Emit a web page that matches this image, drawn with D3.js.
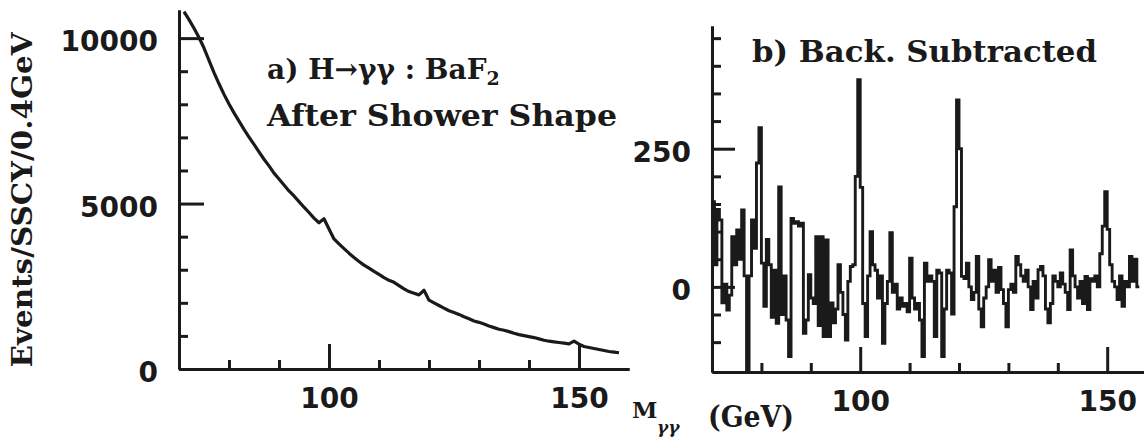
<!DOCTYPE html>
<html><head><meta charset="utf-8">
<script src="https://cdn.jsdelivr.net/npm/d3@7"></script>
<style>
html,body{margin:0;padding:0;background:#fff;}
svg{display:block;}
.tick text{font-family:"DejaVu Sans",sans-serif;font-weight:bold;font-size:28px;fill:#1a1a1a;}
.ann{font-family:"DejaVu Serif",serif;font-weight:bold;fill:#1a1a1a;}
.axis .domain,.axis .tick line{stroke:#1a1a1a;stroke-width:3;}
</style></head><body>
<svg id="c" width="1144" height="445"></svg>
<script>
// ---------- DATA ----------
// Panel a) : M_gg spectrum after shower-shape cut (bin centres 71..158 GeV, 1 GeV step)
const leftStart = 71, leftStep = 1;
const leftValues = [10800,10560,10300,10020,9700,9330,8960,8620,8300,8010,
  7740,7490,7240,7010,6790,6560,6340,6140,5920,5740,
  5560,5380,5230,5060,4890,4730,4560,4420,4540,4230,
  3930,3780,3640,3500,3370,3250,3140,3050,2950,2860,
  2760,2680,2620,2520,2420,2340,2290,2240,2380,2080,
  2000,1920,1840,1760,1710,1650,1580,1520,1450,1410,
  1360,1300,1250,1200,1170,1130,1080,1040,1010,980,
  950,910,870,840,820,800,780,760,840,750,
  680,650,620,590,560,530,510,490];
// Panel b) : background subtracted (bin edges from 70 GeV, 0.5 GeV step)
const rightStart = 70, rightStep = 0.5;
const rightValues = [154,40,140,121,-29,5,-42,-15,91,40,
  103,50,139,20,-150,20,121,70,224,288,
  43,-35,86,40,-55,30,-66,181,-50,20,
  -60,-126,124,115,118,110,115,-84,-60,22,
  -20,-30,91,-70,91,-90,85,-90,-29,-65,
  -40,40,-10,-50,-96,10,37,40,200,375,
  180,-30,-90,20,100,40,30,-20,20,-102,
  -30,10,98,-10,5,-40,-20,-35,-30,-45,
  52,-20,-40,-30,-60,-126,43,10,20,10,
  -90,30,25,-126,-40,30,25,-49,145,338,
  250,19,15,43,0,-23,-10,55,-40,-72,
  -20,0,49,10,30,-10,35,-5,-30,-72,
  -5,5,-10,55,40,20,10,30,0,-41,
  10,-20,31,37,20,-40,-65,-30,20,10,
  0,25,5,-10,-41,67,20,0,-20,10,
  -30,19,-41,15,10,20,0,60,110,172,
  104,40,10,0,-23,20,-35,10,0,55,
  10,50,0];
// Tick values
const leftXMajor = [100,150], leftXMinor = [80,90,110,120,130,140];
const leftYMajor = [0,5000,10000], leftYMinor = [1000,2000,3000,4000,6000,7000,8000,9000];
const rightXMajor = [100,150], rightXMinor = [80,90,110,120,130,140];
const rightYMajor = [0,250], rightYMinor = [-100,-50,50,100,150,200,300,350,400,450];
// Texts
const titleA1 = "a) H\u2192\u03b3\u03b3 : BaF", titleA1sub = "2";
const titleA2 = "After Shower Shape";
const titleB = "b) Back. Subtracted";
const yLabel = "Events/SSCY/0.4GeV";

// ---------- DRAW ----------
const svg = d3.select("#c");
const ink = "#1a1a1a";

const xL = d3.scaleLinear().domain([70,160]).range([179,629]);
const yL = d3.scaleLinear().domain([0,10850]).range([369,10]);
const xR = d3.scaleLinear().domain([70,160]).range([712,1156.6]);
const yR = d3.scaleLinear().domain([-154,472]).range([372,26]);

function axes(x, y, xMaj, xMin, yMaj, yMin, yMajLen, xMajLen){
  const [y0] = y.range();
  const [x0] = x.range();
  svg.append("g").attr("class","axis").attr("transform",`translate(0,${y0})`)
    .call(d3.axisBottom(x).tickValues(xMin).tickSize(-9).tickSizeOuter(0).tickFormat(""));
  svg.append("g").attr("class","axis").attr("transform",`translate(0,${y0})`)
    .call(d3.axisBottom(x).tickValues(xMaj).tickSize(-xMajLen).tickSizeOuter(0).tickPadding(19).tickFormat(d3.format("d")));
  svg.append("g").attr("class","axis").attr("transform",`translate(${x0},0)`)
    .call(d3.axisLeft(y).tickValues(yMin).tickSize(-9).tickSizeOuter(0).tickFormat(""));
  svg.append("g").attr("class","axis").attr("transform",`translate(${x0},0)`)
    .call(d3.axisLeft(y).tickValues(yMaj).tickSize(-yMajLen).tickSizeOuter(0).tickPadding(21).tickFormat(d3.format("d")))
    .selectAll(".tick text").attr("dy","0.45em");
}
axes(xL, yL, leftXMajor, leftXMinor, leftYMajor, leftYMinor, 25, 25);
axes(xR, yR, rightXMajor, rightXMinor, rightYMajor, rightYMinor, 23, 25);

// left curve
const leftPts = leftValues.map((v,i)=>[leftStart + i*leftStep, v]);
svg.append("path")
  .attr("d", d3.line().x(d=>xL(d[0])).y(d=>yL(d[1])).curve(d3.curveLinear)(leftPts))
  .attr("fill","none").attr("stroke",ink).attr("stroke-width",3.2).attr("stroke-linejoin","round");

// right histogram
const rightPts = rightValues.map((v,i)=>[rightStart + i*rightStep, v]);
rightPts.push([rightStart + rightValues.length*rightStep, rightValues[rightValues.length-1]]);
svg.append("path")
  .attr("d", d3.line().x(d=>xR(d[0])).y(d=>yR(d[1])).curve(d3.curveStepAfter)(rightPts))
  .attr("fill","none").attr("stroke",ink).attr("stroke-width",2.9).attr("stroke-linejoin","miter");

// annotations
const t1 = svg.append("text").attr("class","ann").attr("x",267).attr("y",79).attr("font-size",28);
t1.append("tspan").text(titleA1);
t1.append("tspan").attr("font-size",19).attr("dy",6).text(titleA1sub);

svg.append("text").attr("class","ann").attr("x",267).attr("y",126).attr("font-size",29)
  .attr("textLength",350).attr("lengthAdjust","spacingAndGlyphs").text(titleA2);
svg.append("text").attr("class","ann").attr("x",752).attr("y",62).attr("font-size",29)
  .attr("textLength",345).attr("lengthAdjust","spacingAndGlyphs").text(titleB);

svg.append("text").attr("class","ann").attr("font-size",28)
  .attr("transform","translate(32,200) rotate(-90)").attr("text-anchor","middle")
  .attr("textLength",335).attr("lengthAdjust","spacingAndGlyphs").text(yLabel);

// x label  M_gg (GeV)
svg.append("text").attr("class","ann").attr("x",632).attr("y",418).attr("font-size",23).text("M");
svg.append("text").attr("class","ann").attr("x",657).attr("y",433).attr("font-size",17)
  .attr("font-style","italic").text("\u03b3\u03b3");
svg.append("text").attr("class","ann").attr("x",708).attr("y",427).attr("font-size",29)
  .attr("textLength",86).attr("lengthAdjust","spacingAndGlyphs").text("(GeV)");
</script>
</body></html>
